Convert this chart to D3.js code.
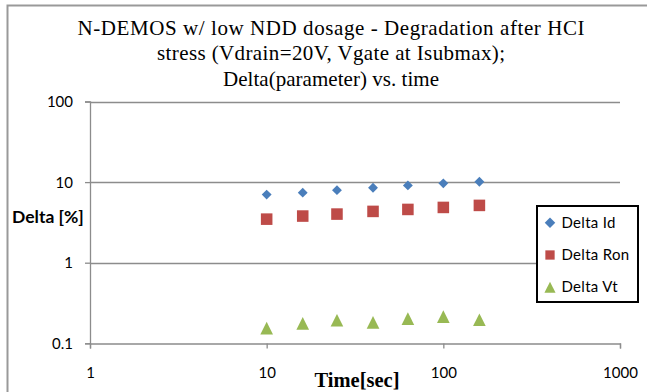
<!DOCTYPE html>
<html>
<head>
<meta charset="utf-8">
<script src="https://cdn.jsdelivr.net/npm/d3@7"></script>
<style>
  html, body { margin: 0; padding: 0; background: #fff; }
  svg { display: block; }
</style>
</head>
<body>
<svg id="chart" width="647" height="392"></svg>
<script>
// Stress time points (seconds)
const times = [10, 16, 25, 40, 63, 100, 160];
// Parameter shifts in percent
const deltaId = [7.0, 7.4, 7.95, 8.5, 9.1, 9.65, 10.1];
const deltaRon = [3.47, 3.79, 4.01, 4.33, 4.58, 4.85, 5.14];
const deltaVt = [0.154, 0.177, 0.193, 0.182, 0.202, 0.214, 0.196];

const seriesNames = ["Delta Id", "Delta Ron", "Delta Vt"];
const xTicks = [1, 10, 100, 1000];
const yTicks = [0.1, 1, 10, 100];
const titleLines = [
  "N-DEMOS w/ low NDD dosage - Degradation after HCI",
  "stress (Vdrain=20V, Vgate at Isubmax);",
  "Delta(parameter) vs. time"
];
// Rendered width of each title line
const titleWidths = [507, 348, 216];

const svg = d3.select("#chart");
const W = 647, H = 392;
const plot = { left: 90, right: 620, top: 101.5, bottom: 343.3 };

// Chart frame
svg.append("path")
  .attr("d", `M7.5,${H} L7.5,5.5 L${W},5.5`)
  .attr("fill", "none").attr("stroke", "#999").attr("stroke-width", 2);

const x = d3.scaleLog().domain([1, 1000]).range([plot.left, plot.right]);
const y = d3.scaleLog().domain([0.1, 100]).range([plot.bottom, plot.top]);

// Title
const serif = "'Liberation Serif', 'Times New Roman', serif";
titleLines.forEach((t, i) => {
  svg.append("text")
    .attr("x", 331).attr("y", 34.5 + i * 25.5)
    .attr("text-anchor", "middle")
    .attr("font-family", serif)
    .attr("font-size", 21)
    .attr("textLength", titleWidths[i])
    .attr("lengthAdjust", "spacing")
    .attr("fill", "#000")
    .text(t);
});

// Horizontal gridlines
svg.append("g").selectAll("line")
  .data(yTicks.filter(d => d > 0.1))
  .join("line")
  .attr("x1", plot.left).attr("x2", plot.right)
  .attr("y1", d => Math.round(y(d)) + 0.5).attr("y2", d => Math.round(y(d)) + 0.5)
  .attr("stroke", "#8c8c8c").attr("stroke-width", 1.3);

// Axes
const axisFont = "Lato, 'Open Sans', sans-serif";
const yAxis = svg.append("g")
  .attr("transform", `translate(${plot.left},0)`)
  .call(d3.axisLeft(y).tickValues(yTicks).tickFormat(d3.format("")).tickSize(5).tickPadding(12));
const xAxis = svg.append("g")
  .attr("transform", `translate(0,${Math.round(plot.bottom) + 0.5})`)
  .call(d3.axisBottom(x).tickValues(xTicks).tickFormat(d3.format("")).tickSize(5).tickPadding(18.5));
[xAxis, yAxis].forEach(a => {
  a.select(".domain").attr("stroke", "#8c8c8c").attr("stroke-width", 1.3);
  a.selectAll(".tick line").attr("stroke", "#8c8c8c").attr("stroke-width", 1.3);
  a.selectAll(".tick text").attr("font-family", axisFont).attr("font-size", 15).attr("fill", "#000");
});
yAxis.selectAll(".tick text").attr("dy", "0.35em");

// Axis titles
svg.append("text")
  .attr("x", 12).attr("y", 222.5)
  .attr("font-family", axisFont).attr("font-weight", "bold").attr("font-size", 17.5)
  .text("Delta [%]");
svg.append("text")
  .attr("x", 357).attr("y", 387)
  .attr("text-anchor", "middle")
  .attr("font-family", serif)
  .attr("font-weight", "bold").attr("font-size", 20.5)
  .text("Time[sec]");

// Upward triangle centred on its bounding box (width ≈ height)
const boxTriangle = {
  draw(context, size) {
    const h = Math.sqrt(size * 2) / 2;
    context.moveTo(0, -h);
    context.lineTo(h, h);
    context.lineTo(-h, h);
    context.closePath();
  }
};

// Marker shapes
const colors = ["#4a7ebb", "#be4b48", "#98b954"];
const symbolTypes = [d3.symbolDiamond2, d3.symbolSquare2, boxTriangle];
const markerSizes = [62, 170, 80];
const allSeries = [deltaId, deltaRon, deltaVt];

allSeries.forEach((vals, si) => {
  const sym = d3.symbol().type(symbolTypes[si]).size(markerSizes[si]);
  svg.append("g").selectAll("path")
    .data(times.map((t, i) => [t, vals[i]]))
    .join("path")
    .attr("transform", d => `translate(${x(d[0])},${y(d[1])})`)
    .attr("d", sym)
    .attr("fill", colors[si]);
});

// Legend
const legend = svg.append("g");
legend.append("rect")
  .attr("x", 537).attr("y", 206).attr("width", 101).attr("height", 96)
  .attr("fill", "#fff").attr("stroke", "#000").attr("stroke-width", 2);
const legendSizes = [70, 110, 62];
seriesNames.forEach((name, i) => {
  const base = 227.7 + i * 32.3;
  legend.append("path")
    .attr("transform", `translate(550,${base - 5})`)
    .attr("d", d3.symbol().type(symbolTypes[i]).size(legendSizes[i])())
    .attr("fill", colors[i]);
  legend.append("text")
    .attr("x", 561.5).attr("y", base)
    .attr("font-family", axisFont).attr("font-size", 15).attr("letter-spacing", 0.3)
    .text(name);
});
</script>
</body>
</html>
